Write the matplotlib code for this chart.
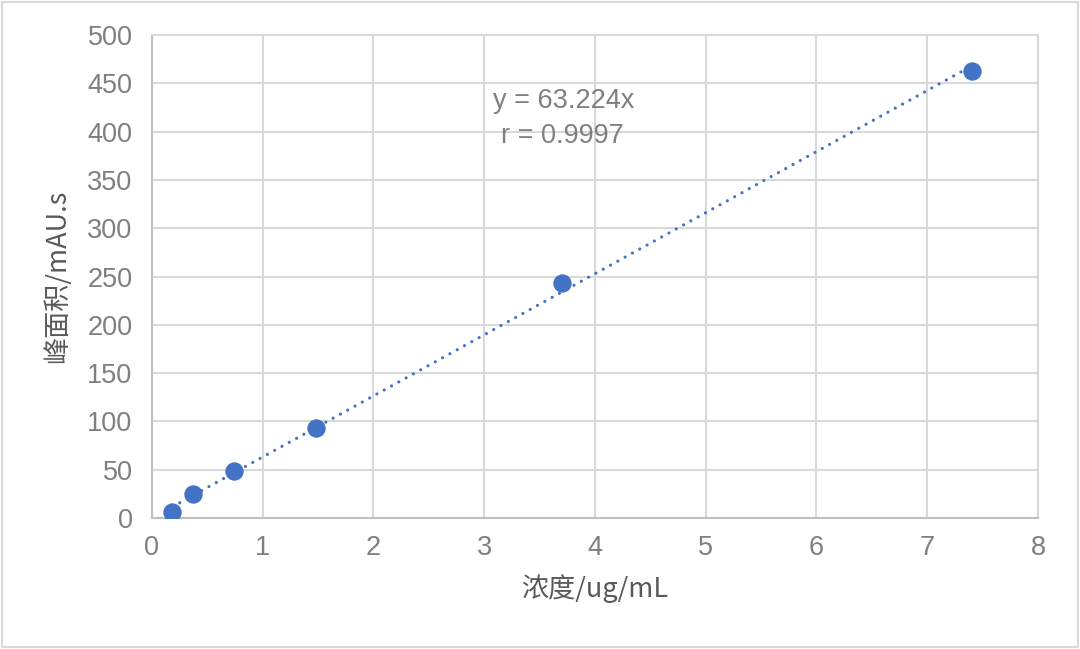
import matplotlib.pyplot as plt
import numpy as np
from matplotlib.patches import Rectangle

plt.rcParams['font.family'] = ['Liberation Sans', 'Noto Sans CJK SC', 'DejaVu Sans']

# concentration (ug/mL) and peak area (mAU.s)
conc = [0.185, 0.37, 0.74, 1.48, 3.70, 7.40]
area = [6.2, 24.8, 48.5, 93.0, 243.5, 463.0]
slope = 63.224
r_value = 0.9997

blue = '#4472C4'
grey_text = '#7f7f7f'
grid_col = '#d9d9d9'

fig = plt.figure(figsize=(10.8, 6.49), dpi=100)
ax = fig.add_axes([0.1407, 0.2018, 0.8204, 0.7442])

# trendline through origin
xt = np.array([conc[0], conc[-1]])
ax.plot(xt, slope * xt, color=blue, lw=2.3, linestyle=(0, (0.01, 2.6)),
        dash_capstyle='round', zorder=2)
ax.scatter(conc, area, s=175, color=blue, zorder=3, linewidths=0)

ax.set_xlim(0, 8)
ax.set_ylim(0, 500)
ax.set_xticks(range(0, 9))
ax.set_yticks(range(0, 501, 50))
ax.grid(True, color=grid_col, lw=1.5)
ax.set_axisbelow(True)
for s in ax.spines.values():
    s.set_color(grid_col)
    s.set_linewidth(1.5)
ax.spines['left'].set_color('#bfbfbf')
ax.spines['bottom'].set_color('#bfbfbf')
ax.tick_params(length=0, colors=grey_text, labelsize=19.5)
ax.tick_params(axis='y', pad=14)
ax.tick_params(axis='x', pad=12)

ax.set_xlabel('浓度/ug/mL', color='#595959', fontsize=19.5, labelpad=10,
              family=['Noto Sans CJK SC', 'DejaVu Sans'])
ax.set_ylabel('峰面积/mAU.s', color='#595959', fontsize=19.5, labelpad=12,
              family=['Noto Sans CJK SC', 'DejaVu Sans'])

ax.text(3.72, 432, f'y = {slope}x', ha='center', va='center', color=grey_text, fontsize=19.5)
ax.text(3.71, 396, f'r = {r_value}', ha='center', va='center', color=grey_text, fontsize=19.5)

fig.patches.append(Rectangle((0.002, 0.003), 0.996, 0.994, transform=fig.transFigure,
                             fill=False, edgecolor=grid_col, lw=1.5))

fig.savefig('out.png', dpi=100)
